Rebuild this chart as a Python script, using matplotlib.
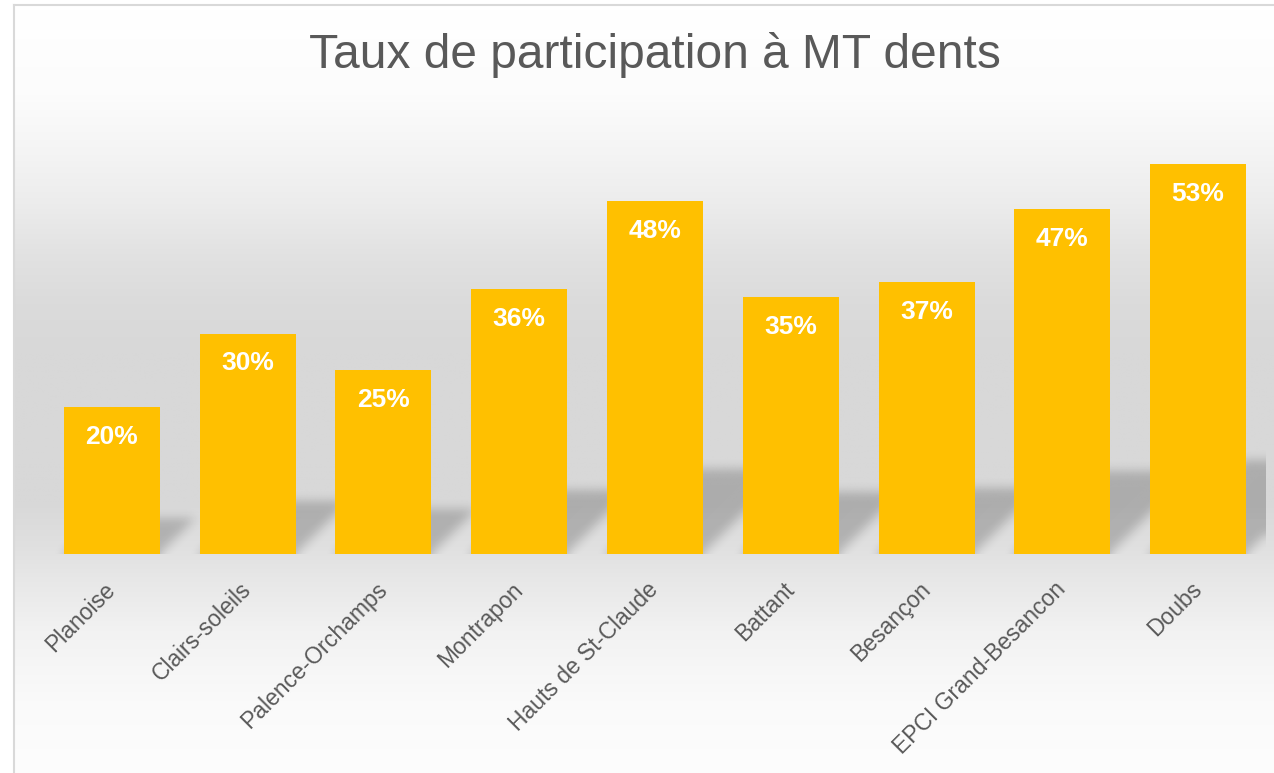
import numpy as np
import matplotlib
matplotlib.use("Agg")
import matplotlib.pyplot as plt
from matplotlib.lines import Line2D

# ---- data ----
categories = ["Planoise", "Clairs-soleils", "Palence-Orchamps", "Montrapon",
              "Hauts de St-Claude", "Battant", "Besançon", "EPCI Grand-Besancon", "Doubs"]
values = [0.20, 0.30, 0.25, 0.36, 0.48, 0.35, 0.37, 0.47, 0.53]
value_labels = ["20%", "30%", "25%", "36%", "48%", "35%", "37%", "47%", "53%"]
title = "Taux de participation à MT dents"

plt.rcParams['font.family'] = ['Liberation Sans', 'DejaVu Sans']

W, H = 1274, 773
fig = plt.figure(figsize=(W / 100, H / 100), dpi=100)
fig.patch.set_facecolor("white")

# ---- background gradient (chart area) ----
bg = fig.add_axes([0, 0, 1, 1], zorder=-10)
bg.set_axis_off()
stops_y = np.array([0, 5, 90, 150, 200, 250, 300, 350, 500, 545, 580, 630, 700, 773])
stops_v = np.array([255, 255, 252, 244, 236, 226, 219, 216, 216, 224, 232, 242, 250, 253])
ys = np.arange(H)
col = np.interp(ys, stops_y, stops_v) / 255.0
grad = np.repeat(col[:, None], 4, axis=1)
img = np.dstack([grad, grad, grad])
bg.imshow(img, extent=[14 / W, 1, 0, (H - 5) / H], aspect='auto',
          origin='upper', interpolation='bilinear')
bg.set_xlim(0, 1)
bg.set_ylim(0, 1)
fig.add_artist(Line2D([14 / W, 14 / W], [0, (H - 5) / H], color="#d9d9d9", lw=1.5))
fig.add_artist(Line2D([14 / W, 1], [(H - 5) / H, (H - 5) / H], color="#d9d9d9", lw=1.5))

# ---- main axes ----
left_px, right_px, bottom_px, top_px = 44, 1266, 554, 113
ax = fig.add_axes([left_px / W, (H - bottom_px) / H,
                   (right_px - left_px) / W, (bottom_px - top_px) / H])
ax.patch.set_alpha(0)
x = np.arange(len(categories))
ax.set_xlim(-0.5, len(categories) - 0.5)
ax.set_ylim(0, 0.6)
bar_w = 0.707

# ---- soft perspective shadows computed from the bars ----
ax_w_px = right_px - left_px
ax_h_px = bottom_px - top_px
nx, ny = ax_w_px, ax_h_px
gx = np.linspace(-0.5, len(categories) - 0.5, nx)
gy = np.linspace(0, 0.6, ny)
XX, YY = np.meshgrid(gx, gy)
px_per_x = ax_w_px / len(categories)
px_per_y = ax_h_px / 0.6
skew = px_per_y / px_per_x  # 45 degree shear in pixels
mask = np.zeros_like(XX)
for i, v in enumerate(values):
    hs = 0.24 * v
    xs = XX - skew * YY
    inside = (YY >= 0) & (YY <= hs) & (xs >= i - bar_w / 2) & (xs <= i + bar_w / 2)
    mask[inside] = 1.0

def blur1d(a, sigma, axis):
    r = int(3 * sigma)
    k = np.exp(-0.5 * (np.arange(-r, r + 1) / sigma) ** 2)
    k /= k.sum()
    pad = [(0, 0), (0, 0)]
    pad[axis] = (r, r)
    ap = np.pad(a, pad, mode='edge')
    return np.apply_along_axis(lambda m: np.convolve(m, k, mode='valid'), axis, ap)

mask = blur1d(mask, 5, 0)
mask = blur1d(mask, 5, 1)
shadow = np.zeros((ny, nx, 4))
shadow[..., 3] = mask * 0.2
ax.imshow(shadow, extent=[-0.5, len(categories) - 0.5, 0, 0.6], origin='lower',
          aspect='auto', zorder=1, interpolation='bilinear')

bars = ax.bar(x, values, width=bar_w, color="#FFC000", zorder=3)
for xi, v, lab in zip(x, values, value_labels):
    ax.annotate(lab, (xi, v), xytext=(0, -30), textcoords='offset pixels',
                ha='center', va='center', color='white', fontsize=19,
                fontweight='bold', zorder=4)

ax.set_xticks(x)
ax.set_xticklabels(categories, rotation=45, ha='right', va='center',
                   rotation_mode='anchor', fontsize=16.5, color='#595959')
ax.tick_params(axis='x', length=0, pad=23)
ax.set_yticks([])
for s in ax.spines.values():
    s.set_visible(False)

fig.text(655 / W, 1 - 55 / H, title, ha='center', va='center',
         fontsize=34.5, color='#595959')

fig.savefig("out.png", dpi=100)
